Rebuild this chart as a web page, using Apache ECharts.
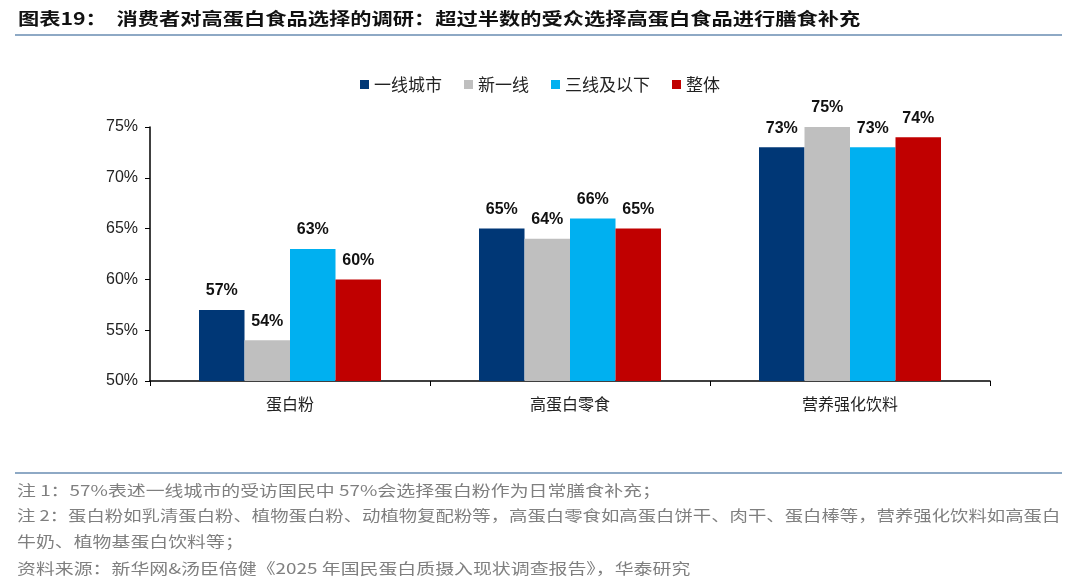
<!DOCTYPE html>
<html>
<head>
<meta charset="utf-8">
<script src="https://cdn.jsdelivr.net/npm/echarts@6/dist/echarts.min.js"></script>
<style>
html,body{margin:0;padding:0;background:#fff;}
#chart{width:1080px;height:586px;}
</style>
</head>
<body>
<div id="chart"></div>
<script>
// 数据
var categories = ['蛋白粉', '高蛋白零食', '营养强化饮料'];
var seriesNames = ['一线城市', '新一线', '三线及以下', '整体'];
var tier1 = [57, 65, 73];
var newTier1 = [54, 64, 75];
var tier3 = [63, 66, 73];
var overall = [60, 65, 74];
var yTicks = [50, 55, 60, 65, 70, 75];

var colors = ['#003776', '#BFBFBF', '#00B0F0', '#C00000'];
var cjk = '"Noto Sans CJK SC", sans-serif';
var latin = 'Arial, "Liberation Sans", sans-serif';

var chart = echarts.init(document.getElementById('chart'));

function makeSeries(name, data, idx){
	return {
		name: name,
		type: 'bar',
		data: data,
		barGap: '0%',
		barCategoryGap: '35%',
		itemStyle: {color: colors[idx]},
		label: {
			show: true,
			position: 'top',
			distance: 11,
			formatter: '{c}%',
			color: '#111',
			fontWeight: 'bold',
			fontSize: 16,
			fontFamily: latin
		}
	};
}

// 注释文字：横向拉宽一点，接近原图的字距
function note(text, top, sx){
	return {
		type: 'text', left: 17, top: top, scaleX: sx || 1.26,
		style: {text: text, fill: '#7f7f7f', fontSize: 15, fontFamily: cjk}
	};
}

var option = {
	backgroundColor: '#fff',
	animation: false,
	color: colors,
	legend: {
		top: 71,
		left: 'center',
		itemWidth: 9,
		itemHeight: 9,
		itemGap: 22,
		icon: 'rect',
		textStyle: {fontSize: 17, color: '#222', fontFamily: cjk},
		data: seriesNames
	},
	grid: {left: 150, right: 90, top: 127, bottom: 205},
	xAxis: {
		type: 'category',
		data: categories,
		axisLine: {lineStyle: {color: '#000', width: 1.5}},
		axisTick: {show: true, alignWithLabel: false, length: 5, lineStyle: {color: '#000'}},
		axisLabel: {fontSize: 16, color: '#222', fontFamily: cjk, margin: 15}
	},
	yAxis: {
		type: 'value',
		min: yTicks[0],
		max: yTicks[yTicks.length - 1],
		interval: 5,
		splitLine: {show: false},
		axisLine: {show: true, lineStyle: {color: '#000', width: 1.5}},
		axisTick: {show: true, length: 5, lineStyle: {color: '#000'}},
		axisLabel: {formatter: '{value}%', fontSize: 16, color: '#222', fontFamily: latin, margin: 12}
	},
	series: [
		makeSeries(seriesNames[0], tier1, 0),
		makeSeries(seriesNames[1], newTier1, 1),
		makeSeries(seriesNames[2], tier3, 2),
		makeSeries(seriesNames[3], overall, 3)
	],
	graphic: [
		{type: 'text', left: 18, top: 10, scaleX: 1.25, style: {text: '图表19：  消费者对高蛋白食品选择的调研：超过半数的受众选择高蛋白食品进行膳食补充', fill: '#111', fontSize: 17, fontWeight: 'bold', fontFamily: cjk}},
		{type: 'rect', shape: {x: 15, y: 34, width: 1047, height: 2}, style: {fill: '#8EA9C5'}},
		{type: 'rect', shape: {x: 15, y: 472, width: 1047, height: 2}, style: {fill: '#8EA9C5'}},
		note('注 1：57%表述一线城市的受访国民中 57%会选择蛋白粉作为日常膳食补充；', 483),
		note('注 2：蛋白粉如乳清蛋白粉、植物蛋白粉、动植物复配粉等，高蛋白零食如高蛋白饼干、肉干、蛋白棒等，营养强化饮料如高蛋白', 508, 1.225),
		note('牛奶、植物基蛋白饮料等；', 534),
		note('资料来源：新华网&汤臣倍健《2025 年国民蛋白质摄入现状调查报告》，华泰研究', 561)
	]
};

chart.setOption(option);
</script>
</body>
</html>
